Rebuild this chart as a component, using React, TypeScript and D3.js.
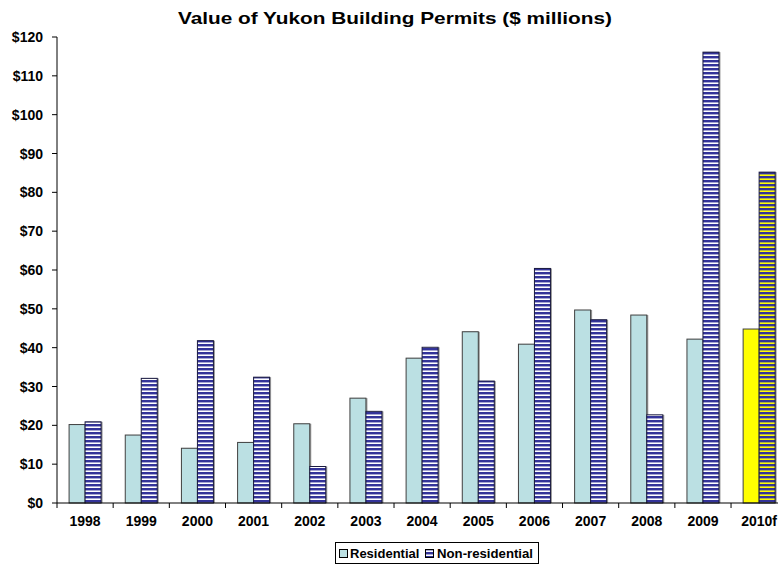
import React from "react";
import * as d3 from "d3";

const categories = ["1998","1999","2000","2001","2002","2003","2004","2005","2006","2007","2008","2009","2010f"];
const residential = [20.2, 17.5, 14.1, 15.6, 20.4, 27.0, 37.3, 44.1, 40.9, 49.7, 48.4, 42.2, 44.8];
const nonResidential = [20.9, 32.1, 41.8, 32.4, 9.4, 23.6, 40.1, 31.4, 60.4, 47.2, 22.7, 116.1, 85.2];
const yTicks = [0, 10, 20, 30, 40, 50, 60, 70, 80, 90, 100, 110, 120];
const forecastCategory = "2010f";

const W = 778, H = 573;
const left = 57, top = 37, bottom = 503;
const step = 56.17;

export default function App() {
  const x = d3.scaleBand<string>().domain(categories).range([left, left + step * categories.length]).paddingInner(0).paddingOuter(0);
  const y = d3.scaleLinear().domain([0, 120]).range([bottom, top]);
  const bw = 16;
  const font = "'Liberation Sans', Arial, sans-serif";
  return (
    <svg width={W} height={H} style={{ position: "absolute", left: 0, top: 0 }} fontFamily={font}>
      <defs>
        <pattern id="stripe" patternUnits="userSpaceOnUse" width="4" height="4">
          <rect width="4" height="4" fill="#ffffff" />
          <rect y="0" width="4" height="2" fill="#333399" />
          <rect y="2" width="4" height="0.7" fill="#8080c0" />
        </pattern>
        <pattern id="stripeY" patternUnits="userSpaceOnUse" width="4" height="4">
          <rect width="4" height="4" fill="#ffff00" />
          <rect y="0" width="4" height="2" fill="#333399" />
          <rect y="2" width="4" height="0.7" fill="#8a8a70" />
        </pattern>
      </defs>
      <rect width={W} height={H} fill="#fff" />
      <text x={178} y={24} fontSize={17} fontWeight="bold" textLength={434} lengthAdjust="spacingAndGlyphs">Value of Yukon Building Permits ($ millions)</text>
      {categories.map((c, i) => {
        const x0 = (x(c) as number) + (step - 2 * bw) / 2;
        const f = c === forecastCategory;
        return (
          <g key={c}>
            <rect x={x0 + 1.5} y={y(residential[i])} width={bw} height={bottom - y(residential[i])} fill="#999" />
            <rect x={x0} y={y(residential[i])} width={bw} height={bottom - y(residential[i])} fill={f ? "#ffff00" : "#bbe0e3"} stroke="#404040" strokeWidth={1} />
            <rect x={x0 + bw + 1.5} y={y(nonResidential[i])} width={bw} height={bottom - y(nonResidential[i])} fill="#999" />
            <rect x={x0 + bw} y={y(nonResidential[i])} width={bw} height={bottom - y(nonResidential[i])} fill={f ? "url(#stripeY)" : "url(#stripe)"} stroke="#1a1a40" strokeWidth={1} />
          </g>
        );
      })}
      <line x1={left} x2={left} y1={top} y2={bottom} stroke="#000" />
      {yTicks.map(t => (
        <g key={t}>
          <line x1={left - 5} x2={left} y1={y(t)} y2={y(t)} stroke="#000" />
          <text x={43} y={y(t) + 5} textAnchor="end" fontSize={14} fontWeight="bold">{"$" + t}</text>
        </g>
      ))}
      <line x1={left} x2={W} y1={bottom} y2={bottom} stroke="#000" />
      {categories.map((c) => (
        <g key={c}>
          <line x1={x(c) as number} x2={x(c) as number} y1={bottom} y2={bottom + 5} stroke="#000" />
          <text x={(x(c) as number) + step / 2} y={526} textAnchor="middle" fontSize={14} fontWeight="bold">{c}</text>
        </g>
      ))}
      <rect x={335.5} y={542.5} width={203} height={21} fill="#fff" stroke="#000" />
      <rect x={339.5} y={549.5} width={8} height={8} fill="#bbe0e3" stroke="#000" />
      <text x={350} y={558} fontSize={13} fontWeight="bold">Residential</text>
      <rect x={425.5} y={549.5} width={8} height={8} fill="url(#stripe)" stroke="#000" />
      <text x={437} y={558} fontSize={13} fontWeight="bold" textLength={96} lengthAdjust="spacingAndGlyphs">Non-residential</text>
    </svg>
  );
}
